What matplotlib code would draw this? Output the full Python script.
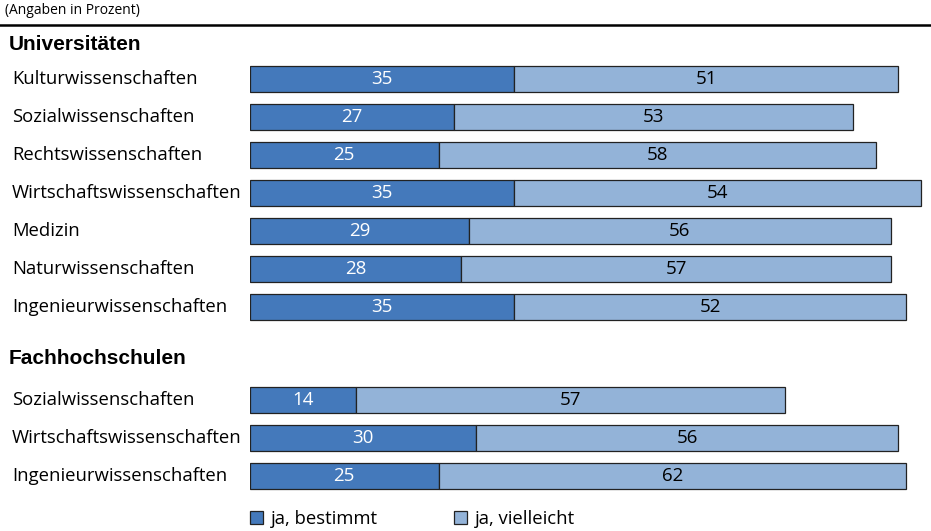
import matplotlib
matplotlib.use("Agg")
import matplotlib.pyplot as plt
import matplotlib.transforms as mtrans
from matplotlib.lines import Line2D
from matplotlib.patches import Patch

# DATA
uni_labels = ["Kulturwissenschaften", "Sozialwissenschaften", "Rechtswissenschaften",
              "Wirtschaftswissenschaften", "Medizin", "Naturwissenschaften",
              "Ingenieurwissenschaften"]
uni_bestimmt = [35, 27, 25, 35, 29, 28, 35]
uni_vielleicht = [51, 53, 58, 54, 56, 57, 52]

fh_labels = ["Sozialwissenschaften", "Wirtschaftswissenschaften", "Ingenieurwissenschaften"]
fh_bestimmt = [14, 30, 25]
fh_vielleicht = [57, 56, 62]

series_names = ["ja, bestimmt", "ja, vielleicht"]

# STYLE
dark = "#4479BB"
light = "#93B3D8"
edge = "#222222"
font = ["Open Sans", "DejaVu Sans"]
W, H = 931, 531

fig = plt.figure(figsize=(W / 100, H / 100), dpi=100)
# axes from bar start (x=250px) to right edge, full height
ax = fig.add_axes([250 / W, 0, 1 - 250 / W, 1])
ax.set_xlim(0, (W - 250) / 7.54)
# row r sits at pixel 79 + 38*r
ax.set_ylim((H - 79) / 38, -79 / 38)
ax.axis("off")

rows_uni = list(range(len(uni_labels)))
rows_fh = [8.45 + i for i in range(len(fh_labels))]

rows = rows_uni + rows_fh
labels = uni_labels + fh_labels
best = uni_bestimmt + fh_bestimmt
viel = uni_vielleicht + fh_vielleicht

bh = 0.7
ax.barh(rows, best, height=bh, color=dark, edgecolor=edge, linewidth=0.9)
ax.barh(rows, viel, left=best, height=bh, color=light, edgecolor=edge, linewidth=0.9)

lab_tr = mtrans.blended_transform_factory(fig.transFigure, ax.transData)
for r, lab, b, v in zip(rows, labels, best, viel):
    ax.text(b / 2, r, str(b), ha="center", va="center", color="white",
            fontsize=13.5, family=font)
    ax.text(b + v / 2, r, str(v), ha="center", va="center", color="black",
            fontsize=13.5, family=font)
    ax.text(12 / W, r, lab, transform=lab_tr, ha="left", va="center",
            fontsize=13.3, family=font, clip_on=False)

# group headers
ax.text(9 / W, (44 - 79) / 38, "Universitäten", transform=lab_tr, ha="left", va="center",
        fontsize=15, fontweight="bold", family="Liberation Sans")
ax.text(9 / W, (358 - 79) / 38, "Fachhochschulen", transform=lab_tr, ha="left", va="center",
        fontsize=15, fontweight="bold", family="Liberation Sans")

# top note and rule
fig.text(5 / W, 1 - 11 / H, "(Angaben in Prozent)", ha="left", va="center",
         fontsize=10, family=font)
fig.add_artist(Line2D([0, 1], [1 - 24.5 / H, 1 - 24.5 / H], color="black", linewidth=1.8,
                      transform=fig.transFigure))

# legend
handles = [Patch(facecolor=dark, edgecolor=edge, linewidth=0.9),
           Patch(facecolor=light, edgecolor=edge, linewidth=0.9)]
fig.legend(handles, series_names, loc="center left", bbox_to_anchor=(233 / W, 1 - 519 / H),
           ncol=2, frameon=False, handlelength=0.75, handleheight=0.75, handletextpad=0.4,
           columnspacing=4.1, prop={"family": font, "size": 13.3})

fig.savefig("out.png", dpi=100)
